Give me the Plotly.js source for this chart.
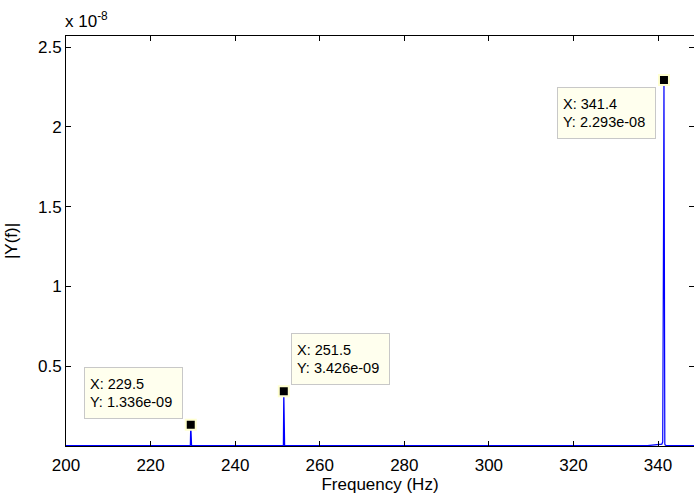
<!DOCTYPE html>
<html>
<head>
<meta charset="utf-8">
<script src="https://cdn.plot.ly/plotly-3.0.1.min.js"></script>
<style>html,body{margin:0;padding:0;background:#fff;}#chart{width:694px;height:499px;}</style>
</head>
<body>
<div id="chart"></div>
<script>
// Spectrum samples (Hz, magnitude)
var freq = [200, 229.3, 229.4, 229.5, 229.6, 229.7, 251.3, 251.4, 251.5, 251.6, 251.7,
            337.5, 338.5, 339.5, 340.3, 340.9, 341.1, 341.2, 341.3, 341.4, 341.5, 341.6, 341.7, 342.0, 348.5];
var mag  = [2e-11, 2e-11, 3e-11, 1.336e-9, 3e-11, 2e-11, 2e-11, 3e-11, 3.426e-9, 3e-11, 2e-11,
            2e-11, 5e-11, 8e-11, 1e-10, 1.2e-10, 2.5e-10, 4.2e-9, 1.4e-8, 2.293e-8, 3e-10, 1.2e-10, 6e-11, 2e-11, 2e-11];

// Data tips
var tipX = [229.5, 251.5, 341.4];
var tipY = [1.336e-9, 3.426e-9, 2.293e-8];
var tipYText = ["1.336e-09", "3.426e-09", "2.293e-08"];

var xTicks = [200, 220, 240, 260, 280, 300, 320, 340];
var yTickVals = [0.5e-8, 1e-8, 1.5e-8, 2e-8, 2.5e-8];
var yTickText = ["0.5", "1", "1.5", "2", "2.5"];

var font = "Liberation Sans, Arial, Helvetica, sans-serif";

var traces = [
  {x: freq, y: mag, type: 'scatter', mode: 'lines', line: {color: '#0000ff', width: 1.2}, hoverinfo: 'skip'},
  {x: tipX, y: tipY, type: 'scatter', mode: 'markers',
   marker: {symbol: 'square', size: 10, color: '#000', line: {color: '#ffffd0', width: 2}}, hoverinfo: 'skip'}
];

// placement of each tip box relative to its point: [xanchor, yanchor, xshift, yshift]
var tipPlace = [["right", "bottom", -8, 6], ["left", "bottom", 7, 6], ["right", "top", -8, -7]];

var annotations = tipX.map(function (xv, i) {
  var p = tipPlace[i];
  return {
    x: xv, y: tipY[i], xref: 'x', yref: 'y', showarrow: false,
    text: "X: " + xv + "<br>Y: " + tipYText[i],
    xanchor: p[0], yanchor: p[1], xshift: p[2], yshift: p[3],
    align: 'left', width: 87, height: 40, borderpad: 5,
    bgcolor: '#ffffee', bordercolor: '#c8c8c8', borderwidth: 1,
    font: {family: font, size: 14.5, color: '#000'}
  };
});
annotations.push({
  xref: 'paper', yref: 'paper', x: 0, y: 1, xanchor: 'left', yanchor: 'bottom',
  yshift: 3, xshift: -3, showarrow: false, text: "x 10<sup>-8</sup>",
  font: {family: font, size: 17, color: '#000'}
});

var layout = {
  width: 694, height: 499,
  margin: {l: 66, r: 0, t: 36, b: 53},
  paper_bgcolor: '#fff', plot_bgcolor: '#fff',
  showlegend: false,
  font: {family: font, size: 17, color: '#000'},
  xaxis: {
    range: [200, 348.5], tickvals: xTicks, ticktext: xTicks.map(String),
    ticks: 'inside', ticklen: 5, tickcolor: '#000', tickwidth: 1,
    showline: true, linecolor: '#000', linewidth: 1, mirror: 'ticks',
    showgrid: false, zeroline: false, ticklabelstandoff: 4,
    title: {text: 'Frequency (Hz)', font: {family: font, size: 17}, standoff: 1},
    tickfont: {family: font, size: 17}
  },
  yaxis: {
    range: [0, 2.569e-8], tickvals: yTickVals, ticktext: yTickText,
    ticks: 'inside', ticklen: 5, tickcolor: '#000', tickwidth: 1,
    showline: true, linecolor: '#000', linewidth: 1, mirror: 'ticks',
    showgrid: false, zeroline: false,
    title: {text: '|Y(f)|', font: {family: font, size: 17}, standoff: 16},
    tickfont: {family: font, size: 17}
  },
  annotations: annotations
};

Plotly.newPlot('chart', traces, layout, {staticPlot: true, displayModeBar: false});
</script>
</body>
</html>
